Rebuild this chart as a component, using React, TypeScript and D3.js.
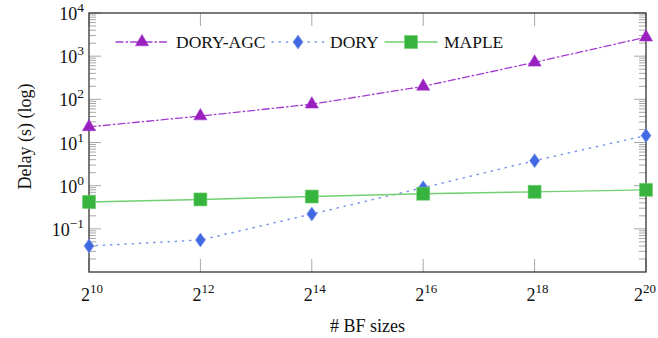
import * as d3 from "d3";
import { useRef, useEffect } from "react";

// BF sizes as powers of two
const exponents = [10, 12, 14, 16, 18, 20];
const doryAgc = [23, 41, 77, 200, 720, 2750];
const dory = [0.04, 0.055, 0.22, 0.9, 3.8, 14.5];
const maple = [0.42, 0.48, 0.56, 0.65, 0.72, 0.8];
const yTickExps = [-1, 0, 1, 2, 3, 4];
const seriesNames = ["DORY-AGC", "DORY", "MAPLE"];

const FONT = "'Liberation Serif', 'DejaVu Serif', serif";

export default function App() {
  const svgRef = useRef<SVGSVGElement>(null);

  const width = 658;
  const height = 338;
  const marginLeft = 89;
  const marginRight = 12;
  const marginTop = 13;
  const marginBottom = 66;

  useEffect(() => {
    const svg = d3.select(svgRef.current);
    svg.selectAll("*").remove();

    const x = d3.scaleLinear().domain([10, 20]).range([marginLeft, width - marginRight]);
    const y = d3.scaleLog().domain([1e-2, 1e4]).range([height - marginBottom, marginTop]);
    const [x0, x1] = x.range();
    const [yb, yt] = y.range();

    const ticks = svg.append("g").attr("stroke", "#a8a8a8").attr("stroke-width", 1);

    // x major ticks, top and bottom, pointing inward
    exponents.forEach(e => {
      ticks.append("line").attr("x1", x(e)).attr("x2", x(e)).attr("y1", yb).attr("y2", yb - 13);
      ticks.append("line").attr("x1", x(e)).attr("x2", x(e)).attr("y1", yt).attr("y2", yt + 13);
    });

    // y ticks, minor and major, left and right
    for (let p = -2; p < 4; p++) {
      for (let m = 2; m <= 9; m++) {
        const v = m * Math.pow(10, p);
        ticks.append("line").attr("x1", x0).attr("x2", x0 + 7).attr("y1", y(v)).attr("y2", y(v));
        ticks.append("line").attr("x1", x1).attr("x2", x1 - 7).attr("y1", y(v)).attr("y2", y(v));
      }
    }
    yTickExps.forEach(e => {
      const v = Math.pow(10, e);
      ticks.append("line").attr("x1", x0).attr("x2", x0 + 12).attr("y1", y(v)).attr("y2", y(v));
      ticks.append("line").attr("x1", x1).attr("x2", x1 - 12).attr("y1", y(v)).attr("y2", y(v));
    });

    // frame
    svg.append("rect")
      .attr("x", x0).attr("y", yt)
      .attr("width", x1 - x0).attr("height", yb - yt)
      .attr("fill", "none").attr("stroke", "#333").attr("stroke-width", 1.3);

    // tick labels
    const yl = svg.append("g").attr("font-family", FONT).attr("font-size", 18).attr("fill", "#111");
    yTickExps.forEach(e => {
      const t = yl.append("text")
        .attr("x", x0 - 5).attr("y", y(Math.pow(10, e)) + 7)
        .attr("text-anchor", "end");
      t.append("tspan").text("10");
      t.append("tspan").attr("dy", -8).attr("font-size", 13.5).text(e < 0 ? "\u2212" + Math.abs(e) : String(e));
    });
    exponents.forEach(e => {
      const t = yl.append("text")
        .attr("x", Math.min(x(e) + 3, width - 13)).attr("y", yb + 29)
        .attr("text-anchor", "middle");
      t.append("tspan").text("2");
      t.append("tspan").attr("dy", -8).attr("font-size", 13).text(String(e));
    });

    // axis titles
    yl.append("text")
      .attr("x", (x0 + x1) / 2).attr("y", yb + 60)
      .attr("text-anchor", "middle").text("# BF sizes");
    yl.append("text")
      .attr("transform", `translate(31,${(yb + yt) / 2 - 6}) rotate(-90)`)
      .attr("text-anchor", "middle").text("Delay (s) (log)");

    const line = d3.line<number>().x((d, i) => x(exponents[i])).y(d => y(d));

    const tri = d3.symbol().type(d3.symbolTriangle).size(75);
    const diamond = "M0,-7L5,0L0,7L-5,0Z";
    const square = "M-6.5,-6.5H6.5V6.5H-6.5Z";

    const series = [
      { name: seriesNames[0], data: doryAgc, line: "#a23ccf", fill: "#9a1fbf", dash: "7,3,1.5,3", marker: tri(), width: 1.3 },
      { name: seriesNames[1], data: dory, line: "#7b95ea", fill: "#4169e1", dash: "1.2,6", marker: diamond, width: 1.5 },
      { name: seriesNames[2], data: maple, line: "#72d072", fill: "#36b43e", dash: null, marker: square, width: 1.4 }
    ];

    series.forEach(s => {
      svg.append("path")
        .attr("d", line(s.data))
        .attr("fill", "none")
        .attr("stroke", s.line)
        .attr("stroke-width", s.width)
        .attr("stroke-dasharray", s.dash)
        .attr("stroke-linecap", "round");
      svg.append("g")
        .selectAll("path")
        .data(s.data)
        .join("path")
        .attr("transform", (d, i) => `translate(${x(exponents[i])},${y(d)})`)
        .attr("d", s.marker)
        .attr("fill", s.fill)
        .attr("stroke", s.line)
        .attr("stroke-width", 0.6);
    });

    // legend
    const legendItems = [
      { x: 116, tx: 176 },
      { x: 272, tx: 330 },
      { x: 385, tx: 444 }
    ];
    const ly = 42;
    const lg = svg.append("g");
    series.forEach((s, i) => {
      const li = legendItems[i];
      lg.append("line")
        .attr("x1", li.x).attr("x2", li.x + 52)
        .attr("y1", ly).attr("y2", ly)
        .attr("stroke", s.line).attr("stroke-width", s.width)
        .attr("stroke-dasharray", s.dash).attr("stroke-linecap", "round");
      lg.append("path")
        .attr("transform", `translate(${li.x + 26},${ly})`)
        .attr("d", s.marker)
        .attr("fill", s.fill)
        .attr("stroke", s.line)
        .attr("stroke-width", 0.6);
      lg.append("text")
        .attr("x", li.tx).attr("y", ly + 6)
        .attr("font-family", FONT).attr("font-size", 17.5).attr("fill", "#111")
        .text(s.name);
    });
  }, []);

  return (
    <svg
      ref={svgRef}
      width={width}
      height={height}
      style={{ position: "absolute", left: 0, top: 0, overflow: "visible" }}
    />
  );
}
